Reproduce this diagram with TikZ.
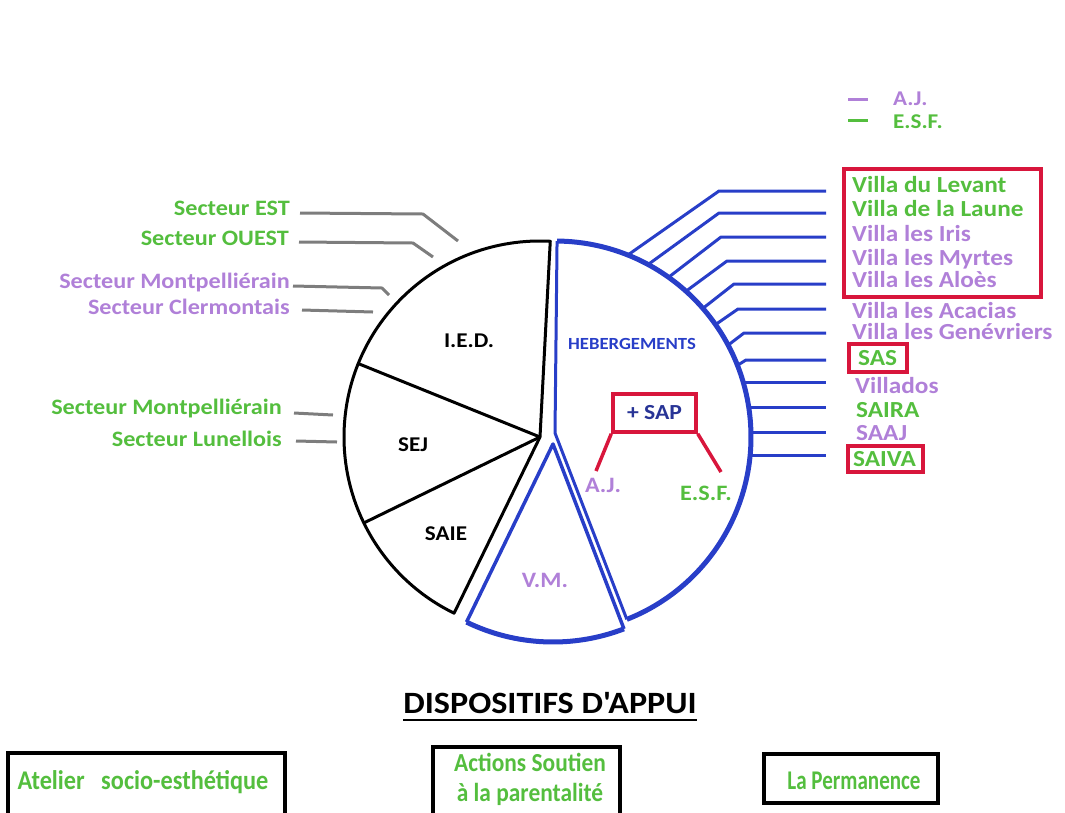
\documentclass[tikz,border=0pt]{standalone}
\usepackage{fontspec}
\setmainfont[FakeStretch=1.1]{Carlito}
\newfontfamily\condf[FakeStretch=0.9]{Carlito}
\newfontfamily\condg[FakeStretch=0.78]{Carlito}
\newfontfamily\titlef[FakeStretch=1.1,Ligatures=TeXOff]{Carlito}
\usetikzlibrary{calc}
\definecolor{grn}{RGB}{84,190,62}
\definecolor{pur}{RGB}{176,128,216}
\definecolor{blu}{RGB}{40,62,200}
\definecolor{navy}{RGB}{40,52,150}
\definecolor{rd}{RGB}{216,22,60}
\definecolor{gry}{RGB}{125,125,125}
\begin{document}
\begin{tikzpicture}[x=1pt,y=-1pt,
  every node/.style={inner sep=0pt},
  vl/.style={anchor=west, font=\fontsize{23}{25}\selectfont\bfseries, text height=15pt, text depth=0pt},
  sl/.style={anchor=east, font=\fontsize{22}{24}\selectfont\bfseries, text height=14.5pt, text depth=0pt},
  pl/.style={font=\fontsize{22}{24}\selectfont\bfseries, text height=14.5pt, text depth=0pt},
  gline/.style={gry, line width=3, line join=round},
  bline/.style={blu, line width=3, line join=round},
  rbox/.style={draw=rd, line width=4},
  kbox/.style={draw=black, line width=3.5},
  bt/.style={font=\condf\fontsize{27}{30}\selectfont\bfseries, text=grn, text height=17.5pt, text depth=0pt}]
\useasboundingbox (0,0) rectangle (1065,812);

% ---------- legend ----------
\coordinate (la1) at (848,99); \coordinate (la2) at (868,99);
\coordinate (le1) at (848,120); \coordinate (le2) at (868,120);
\draw[pur, line width=3] (la1) -- (la2);
\draw[grn, line width=3] (le1) -- (le2);
\node[vl, font=\fontsize{21}{24}\selectfont\bfseries, text height=14pt, text=pur] (legaj) at (893,98) {A.J.};
\node[vl, font=\fontsize{21}{24}\selectfont\bfseries, text height=14pt, text=grn] (legesf) at (893,121) {E.S.F.};

% ---------- black pie ----------
\coordinate (C1) at (540,437);
\draw[black, line width=3, line join=round] (C1) -- ($(C1)+(-87:196)$) arc[start angle=-87, end angle=-244, radius=196] -- cycle;
\draw[black, line width=3] (C1) -- ($(C1)+(-158:196)$);
\draw[black, line width=3] (C1) -- ($(C1)+(-206:196)$);
\node[pl, font=\fontsize{21}{24}\selectfont\bfseries] (ied) at (469,340) {I.E.D.};
\node[pl, font=\fontsize{21}{24}\selectfont\bfseries] (sej) at (413,444) {SEJ};
\node[pl, font=\fontsize{21}{24}\selectfont\bfseries] (saie) at (446,533) {SAIE};

% ---------- hebergements ----------
\coordinate (H0) at (555,437);
\coordinate (C2) at (555,433);
\draw[blu, line width=3, line join=round] ($(H0)+(-89.4:196)$) -- (C2) -- ($(H0)+(68.5:196)$);
\draw[blu, line width=5] ($(H0)+(-89.4:196)$) arc[start angle=-89.4, end angle=68.5, radius=196];
\node[font=\fontsize{17}{20}\selectfont\bfseries, text=blu] (heb) at (632,344) {HEBERGEMENTS};

% ---------- V.M. ----------
\coordinate (V0) at (553,444);
\draw[blu, line width=3.5, line join=round] ($(V0)+(115.9:198)$) -- (V0) -- ($(V0)+(69:198)$);
\draw[blu, line width=5] ($(V0)+(115.9:198)$) arc[start angle=115.9, end angle=69, radius=198];
\node[pl, text=pur] (vm) at (545,580) {V.M.};

% ---------- SAP ----------
\node[rbox, line width=3.5, minimum width=83, minimum height=38, font=\fontsize{21.5}{24}\selectfont\bfseries, text=navy] (sap) at (654.5,413) {+ SAP};
\coordinate (ajend) at (596,471);
\coordinate (esfend) at (721,472);
\draw[rd, line width=3.5] (sap.south west) -- (ajend);
\draw[rd, line width=3.5] (sap.south east) -- (esfend);
\node[pl, text=pur] (aj) at (603,485) {A.J.};
\node[pl, text=grn] (esf) at (706,493) {E.S.F.};

% ---------- blue connectors ----------
\foreach \a/\kx/\ky in {-68/719/191, -61.5/719/213, -54.5/721/237, -48/727/261, -41/734/284, -35/738/309, -28/744/333, -21.5/746/360}{
  \draw[bline] ($(H0)+(\a:197)$) -- (\kx,\ky) -- (826,\ky);
}
\foreach \sx/\ky in {742/382, 748/407, 750/432, 749/455}{
  \draw[bline] (\sx,\ky) -- (826,\ky);
}

% ---------- right labels ----------
\node[vl, text=grn] (v1) at (852,185) {Villa du Levant};
\node[vl, text=grn] (v2) at (852,209) {Villa de la Laune};
\node[vl, text=pur] (v3) at (852,234) {Villa les Iris};
\node[vl, text=pur] (v4) at (852,258) {Villa les Myrtes};
\node[vl, text=pur] (v5) at (852,280) {Villa les Aloès};
\node[vl, text=pur] (v6) at (852,311) {Villa les Acacias};
\node[vl, text=pur] (v7) at (852,332) {Villa les Genévriers};
\node[vl, text=grn] (v8) at (858,358) {SAS};
\node[vl, text=pur] (v9) at (855,386) {Villados};
\node[vl, text=grn] (v10) at (856,410) {SAIRA};
\node[vl, text=pur] (v11) at (856,433) {SAAJ};
\node[vl, text=grn] (v12) at (853,459) {SAIVA};
\draw[rd, line width=4] (844,169) rectangle (1041,297);
\draw[rd, line width=4] (849,344) rectangle (907,372);
\draw[rd, line width=4] (848,446) rectangle (923,472);

% ---------- left labels ----------
\node[sl, text=grn] (s1) at (290,208) {Secteur EST};
\node[sl, text=grn] (s2) at (289,238) {Secteur OUEST};
\node[sl, text=pur] (s3) at (290,281) {Secteur Montpelliérain};
\node[sl, text=pur] (s4) at (290,307) {Secteur Clermontais};
\node[sl, text=grn] (s5) at (282,407) {Secteur Montpelliérain};
\node[sl, text=grn] (s6) at (282,439) {Secteur Lunellois};
\draw[gline] (300,213) -- (423,214) -- (458,241);
\draw[gline] (299,242) -- (413,243) -- (433,257);
\draw[gline] (293,286) -- (382,288) -- (389,295);
\draw[gline] (302,310) -- (373,312);
\draw[gline] (294,413) -- (333,415);
\draw[gline] (296,441) -- (337,442);

% ---------- dispositifs d'appui ----------
\node[font=\titlef\fontsize{31}{33}\selectfont\bfseries, text height=20pt, text depth=0pt] (title) at (550,703) {DISPOSITIFS D'APPUI};
\draw[black, line width=2] ($(title.south west)+(0,7)$) -- ($(title.south east)+(0,7)$);

\node[kbox, minimum width=277, minimum height=66] (b1) at (146.5,786) {};
\node[bt] (t1) at (143,781) {Atelier\ \ \ socio-esthétique};
\node[kbox, minimum width=187, minimum height=76] (b2) at (526.5,785) {};
\node[bt, font=\condf\fontsize{26}{30}\selectfont\bfseries] (t2a) at (530,763) {Actions Soutien};
\node[bt, font=\condf\fontsize{26}{30}\selectfont\bfseries] (t2b) at (530,793) {à la parentalité};
\node[kbox, minimum width=174, minimum height=49] (b3) at (851,778.5) {};
\node[bt, font=\condg\fontsize{27}{30}\selectfont\bfseries, text height=17.5pt] (t3) at (854,781) {La Permanence};
\end{tikzpicture}
\end{document}
